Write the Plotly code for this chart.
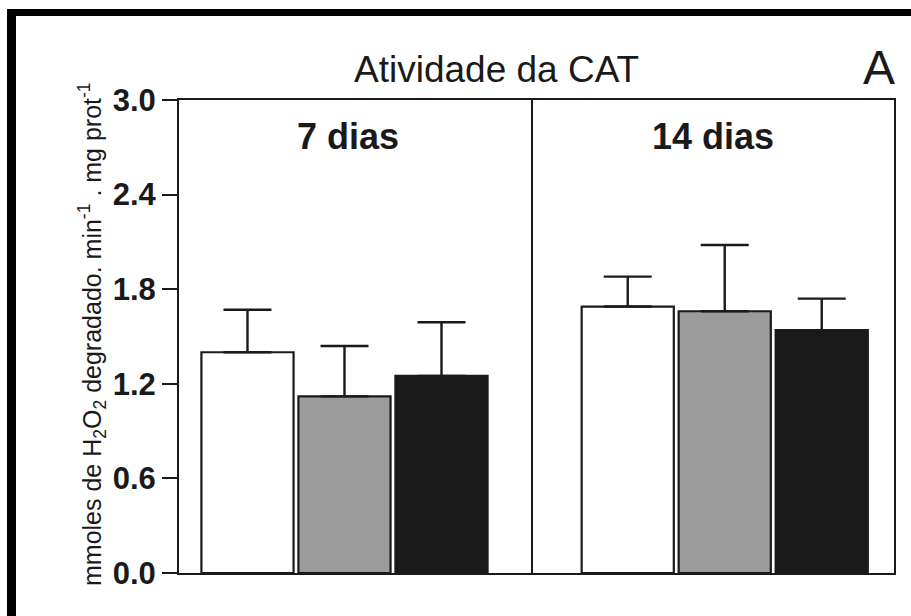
import plotly.graph_objects as go

# ---- data -------------------------------------------------------------
periods = ["7 dias", "14 dias"]
group_names = ["Grupo 1", "Grupo 2", "Grupo 3"]
# mean catalase activity per group, for each period
means_by_group = [
    [1.40, 1.69],
    [1.12, 1.66],
    [1.25, 1.54],
]
# upper error (SEM) per group, for each period
errors_by_group = [
    [0.27, 0.19],
    [0.32, 0.42],
    [0.34, 0.20],
]
y_ticks = [0.0, 0.6, 1.2, 1.8, 2.4, 3.0]

# ---- styling / layout --------------------------------------------------
W, H = 911, 616
L, R, T, B = 179, 17, 100, 43          # plot area margins in px
INK = "#1a1a1a"
fills = ["#ffffff", "#9a9b9a", "#1a1a1a"]
FONT = "Liberation Sans, Arial, Helvetica, sans-serif"

period_centers = [0.0, 3.92]
bar_offsets = [-1.0, 0.0, 1.0]
x_range = [-1.706, 5.665]
divider_x = 1.933

pw, ph = W - L - R, H - T - B


def px_x(px):
    return (px - L) / pw


def px_y(py):
    return (H - B - py) / ph


fig = go.Figure()
for gi, name in enumerate(group_names):
    xs = [c + bar_offsets[gi] for c in period_centers]
    fig.add_trace(go.Bar(
        x=xs,
        y=means_by_group[gi],
        name=name,
        width=0.95,
        marker=dict(color=fills[gi], line=dict(color=INK, width=2.2)),
        error_y=dict(type="data", symmetric=False,
                     array=errors_by_group[gi],
                     arrayminus=[0] * len(periods),
                     color=INK, thickness=2.4, width=24),
        showlegend=False,
    ))

shapes = [
    # divider between the two periods
    dict(type="line", xref="x", yref="y", x0=divider_x, x1=divider_x,
         y0=0, y1=3, line=dict(color=INK, width=2)),
    # heavy frame on top and left
    dict(type="rect", xref="paper", yref="paper",
         x0=px_x(7), x1=px_x(W + 5), y0=px_y(16), y1=px_y(9),
         fillcolor="#000000", line=dict(width=0), layer="above"),
    dict(type="rect", xref="paper", yref="paper",
         x0=px_x(7), x1=px_x(16), y0=px_y(H + 5), y1=px_y(9),
         fillcolor="#000000", line=dict(width=0), layer="above"),
]

annotations = [
    dict(text="Atividade da CAT", xref="paper", yref="paper",
         x=px_x(496), y=px_y(70), xanchor="center", yanchor="middle",
         showarrow=False, font=dict(family=FONT, size=37, color=INK)),
    dict(text="A", xref="paper", yref="paper",
         x=px_x(897), y=px_y(67), xanchor="right", yanchor="middle",
         showarrow=False, font=dict(family=FONT, size=48, color=INK)),
    dict(text="<b>7 dias</b>", xref="paper", yref="paper",
         x=px_x(347.5), y=px_y(136), xanchor="center", yanchor="middle",
         showarrow=False, font=dict(family=FONT, size=36, color=INK)),
    dict(text="<b>14 dias</b>", xref="paper", yref="paper",
         x=px_x(712.5), y=px_y(136), xanchor="center", yanchor="middle",
         showarrow=False, font=dict(family=FONT, size=36, color=INK)),
    dict(text="mmoles de H<sub>2</sub>O<sub>2</sub> degradado. min<sup>-1</sup> . mg prot<sup>-1</sup>",
         xref="paper", yref="paper", x=px_x(92), y=px_y(334),
         xanchor="center", yanchor="middle", textangle=-90,
         showarrow=False, font=dict(family=FONT, size=25, color=INK)),
]

fig.update_layout(
    width=W, height=H,
    margin=dict(l=L, r=R, t=T, b=B),
    paper_bgcolor="#ffffff", plot_bgcolor="#ffffff",
    barmode="overlay",
    shapes=shapes,
    annotations=annotations,
    xaxis=dict(range=x_range, showticklabels=False, ticks="",
               showgrid=False, zeroline=False,
               showline=True, linecolor=INK, linewidth=2, mirror=True),
    yaxis=dict(range=[0, 3], tickvals=y_ticks,
               ticktext=[f"<b>{v:.1f}</b>" for v in y_ticks],
               ticks="outside", ticklen=15, tickwidth=2, tickcolor=INK,
               tickfont=dict(family=FONT, size=31, color=INK),
               showgrid=False, zeroline=False,
               showline=True, linecolor=INK, linewidth=2, mirror=True),
)

fig.write_html("out.html")
